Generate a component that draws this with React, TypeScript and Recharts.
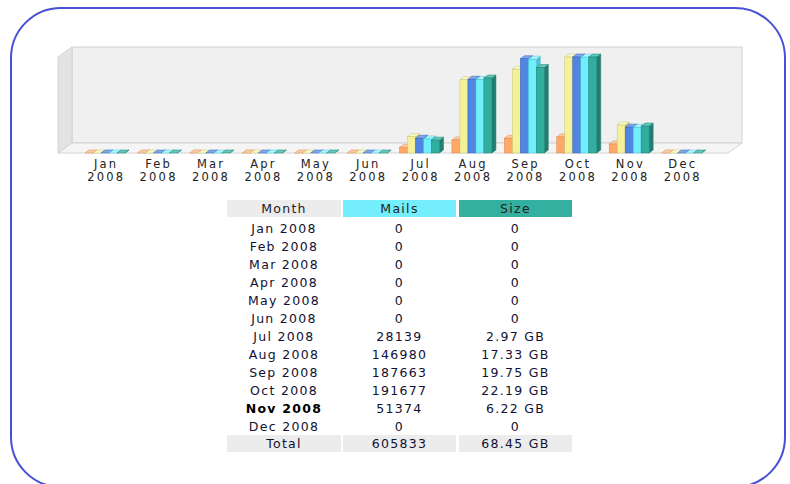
import React from 'react';
import { BarChart, Bar, XAxis, YAxis } from 'recharts';

const months = ['Jan', 'Feb', 'Mar', 'Apr', 'May', 'Jun', 'Jul', 'Aug', 'Sep', 'Oct', 'Nov', 'Dec'];
const year = '2008';
// bar heights (no table values for these three)
const visitors = [0, 0, 0, 0, 0, 0, 240, 560, 630, 690, 385, 0];
const visits = [0, 0, 0, 0, 0, 0, 700, 3140, 3600, 4120, 1200, 0];
const pages = [0, 0, 0, 0, 0, 0, 29500, 147500, 188500, 192000, 51800, 0];
// from the table
const mails = [0, 0, 0, 0, 0, 0, 28139, 146980, 187663, 191677, 51374, 0];
const sizeGB = [0, 0, 0, 0, 0, 0, 2.97, 17.33, 19.75, 22.19, 6.22, 0];
const totalMails = '605833';
const totalSize = '68.45 GB';
const currentMonth = 'Nov';

const data = months.map((m, i) => ({
  month: m,
  visitors: visitors[i],
  visits: visits[i],
  pages: pages[i],
  mails: mails[i],
  size: sizeGB[i],
}));

const series = [
  { key: 'visitors', axis: 'v', front: '#FFA868', top: '#FFCB9C', side: '#D98850' },
  { key: 'visits', axis: 'v', front: '#F5F09A', top: '#FBF8CC', side: '#CBC46C' },
  { key: 'pages', axis: 'h', front: '#5086E2', top: '#7FA8F0', side: '#3562B5' },
  { key: 'mails', axis: 'h', front: '#70EEFC', top: '#ACF7FF', side: '#4CC2D4' },
  { key: 'size', axis: 'k', front: '#32AE9F', top: '#62CABC', side: '#207E72' },
];

const DX = 4;
const DY = 3;

const make3D = (front: string, top: string, side: string) => (props: any) => {
  const { x, y, width, height } = props;
  if (x == null || y == null) return null;
  const w = width;
  const h = Math.max(0, height || 0);
  return (
    <g>
      <polygon
        points={`${x + w},${y} ${x + w + DX},${y - DY} ${x + w + DX},${y + h - DY} ${x + w},${y + h}`}
        fill={side}
        stroke={side}
        strokeWidth={0.5}
      />
      <polygon
        points={`${x},${y} ${x + DX},${y - DY} ${x + w + DX},${y - DY} ${x + w},${y}`}
        fill={top}
        stroke={side}
        strokeWidth={0.5}
      />
      {h > 0 && <rect x={x} y={y} width={w} height={h} fill={front} stroke={side} strokeWidth={0.5} />}
    </g>
  );
};

const MonthTick = (props: any) => {
  const { x, y, payload } = props;
  return (
    <text x={x + 1} y={y} textAnchor="middle" fill="#222" fontSize={11.5} fontFamily="DejaVu Sans" letterSpacing={2.2}>
      <tspan x={x + 1} dy={14.5}>{payload.value}</tspan>
      <tspan x={x + 1} dy={13}>{year}</tspan>
    </text>
  );
};

const cols = [
  { left: 227, width: 114 },
  { left: 343, width: 113 },
  { left: 459, width: 113 },
];

const cellText: React.CSSProperties = {
  position: 'absolute',
  textAlign: 'center',
  fontFamily: 'DejaVu Sans',
  fontSize: 12.5,
  letterSpacing: 1.3,
  color: '#111133',
  lineHeight: '17px',
  height: 17,
  whiteSpace: 'nowrap',
};

function Table() {
  const headers = [
    { label: 'Month', bg: '#ECECEC' },
    { label: 'Mails', bg: '#74EEFC' },
    { label: 'Size', bg: '#33B0A0' },
  ];
  const rows = months.map((m, i) => [
    `${m} ${year}`,
    String(mails[i]),
    sizeGB[i] === 0 ? '0' : `${sizeGB[i].toFixed(2)} GB`,
  ]);
  return (
    <>
      {headers.map((h, c) => (
        <div key={h.label} style={{ ...cellText, top: 200, left: cols[c].left, width: cols[c].width, background: h.bg, color: '#222' }}>
          {h.label}
        </div>
      ))}
      {rows.map((r, i) =>
        r.map((t, c) => (
          <div
            key={`${i}-${c}`}
            style={{
              ...cellText,
              top: 220 + i * 18,
              left: cols[c].left,
              width: cols[c].width,
              fontWeight: c === 0 && months[i] === currentMonth ? 'bold' : 'normal',
              color: c === 0 && months[i] === currentMonth ? '#000' : '#111133',
            }}
          >
            {t}
          </div>
        ))
      )}
      {['Total', totalMails, totalSize].map((t, c) => (
        <div key={`t${c}`} style={{ ...cellText, top: 435, left: cols[c].left, width: cols[c].width, background: '#ECECEC' }}>
          {t}
        </div>
      ))}
    </>
  );
}

export default function App() {
  return (
    <div style={{ position: 'absolute', left: 0, top: 0, width: 790, height: 484, overflow: 'hidden', background: '#fff' }}>
      <svg width={790} height={484} style={{ position: 'absolute', left: 0, top: 0 }}>
        <rect x={11} y={8} width={774} height={479} rx={50} ry={50} fill="none" stroke="#4650D6" strokeWidth={2} />
        <rect x={72} y={47} width={670} height={96} fill="#F0F0F0" stroke="#D4D4D4" strokeWidth={1} />
        <polygon points="58,57 72,47 72,143 58,153" fill="#E3E3E3" stroke="#D2D2D2" strokeWidth={1} />
        <polygon points="58,153 72,143 742,143 728,153" fill="#F5F5F5" stroke="#D2D2D2" strokeWidth={1} />
      </svg>
      <div style={{ position: 'absolute', left: 0, top: 0 }}>
        <BarChart width={790} height={200} data={data} margin={{ top: 57, right: 82, bottom: 0, left: 79 }} barGap={0} barSize={8}>
          <XAxis dataKey="month" height={47} axisLine={false} tickLine={false} tickSize={0} tickMargin={0} interval={0} tick={<MonthTick />} />
          <YAxis yAxisId="v" hide domain={[0, 'dataMax']} />
          <YAxis yAxisId="h" hide domain={[0, 'dataMax']} />
          <YAxis yAxisId="k" hide domain={[0, 'dataMax']} />
          {series.map((s) => (
            <Bar
              key={s.key}
              dataKey={s.key}
              yAxisId={s.axis}
              fill={s.front}
              isAnimationActive={false}
              shape={make3D(s.front, s.top, s.side)}
            />
          ))}
        </BarChart>
      </div>
      <Table />
    </div>
  );
}
